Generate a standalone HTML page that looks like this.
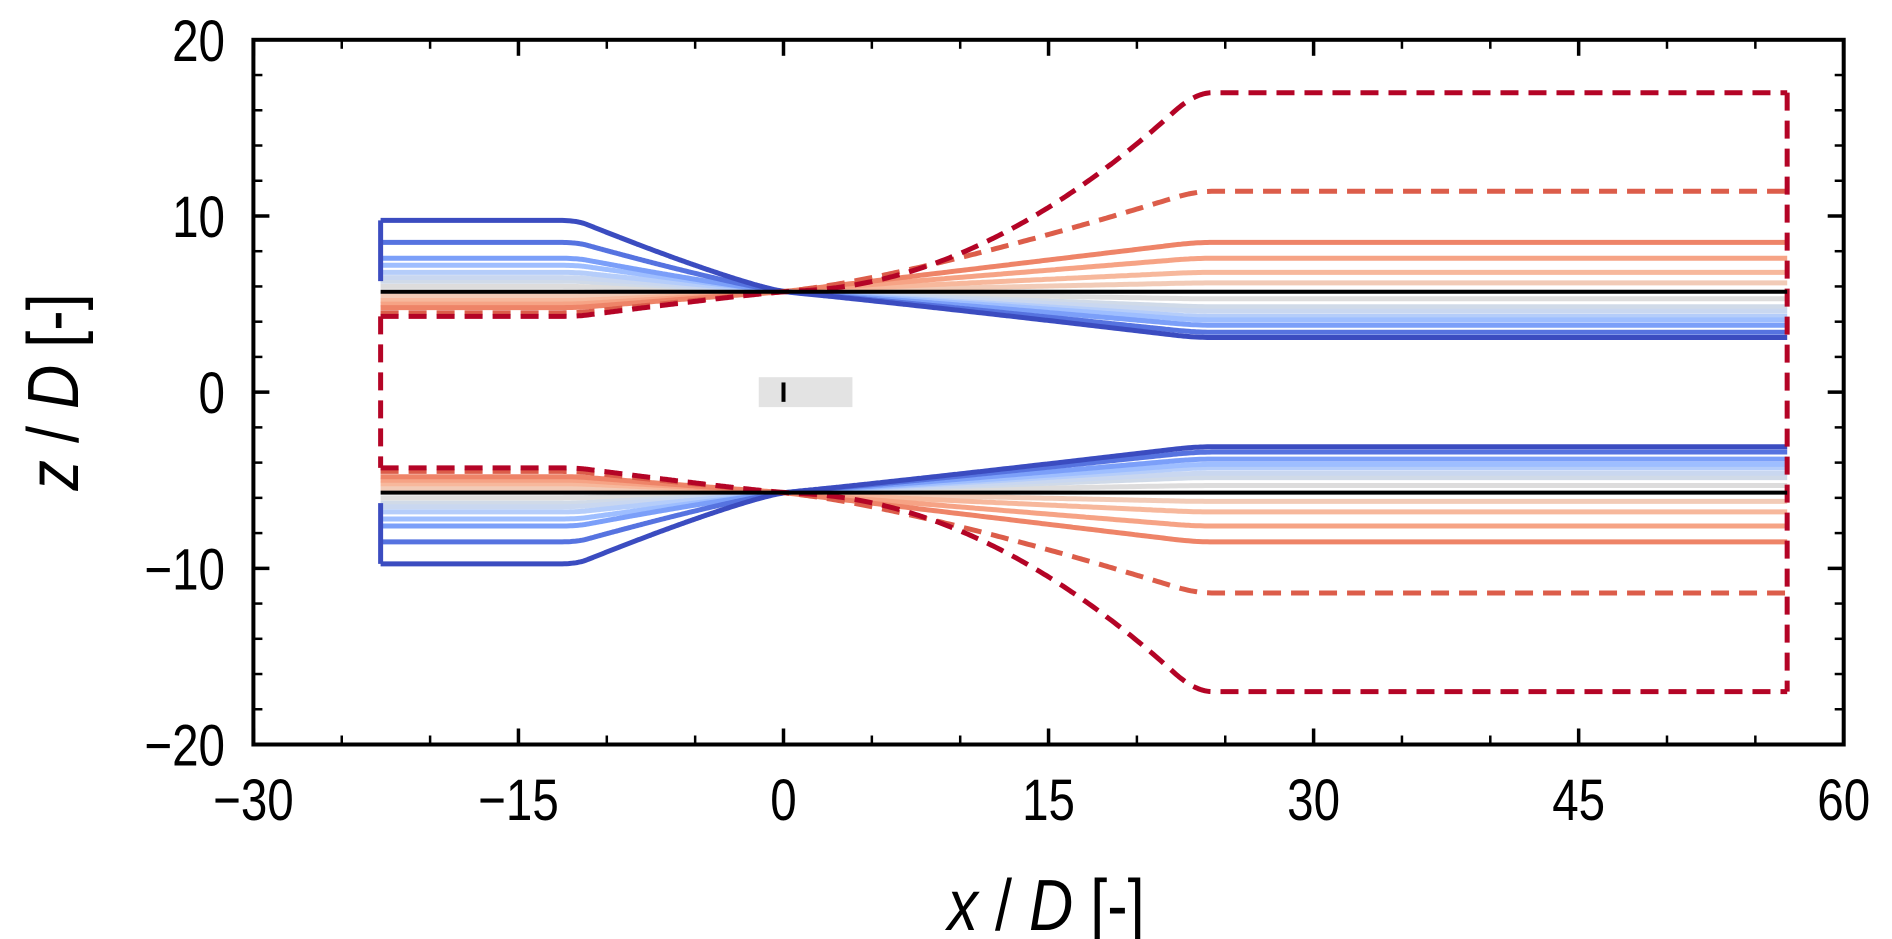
<!DOCTYPE html>
<html><head><meta charset="utf-8"><style>
body{margin:0;background:#fff;}
svg{display:block;font-family:"Liberation Sans",sans-serif;}
</style></head><body>
<svg id="chart" width="1892" height="939" viewBox="0 0 1892 939" style="font-family:'Liberation Sans',sans-serif;">
<g id="plot"></g>
<g id="axes"></g>
<text transform="translate(1046,930) scale(0.85,1)" text-anchor="middle" font-size="72"><tspan font-style="italic">x</tspan> / <tspan font-style="italic">D</tspan> [-]</text>
<text transform="translate(78,392) rotate(-90) scale(0.85,1)" text-anchor="middle" font-size="72"><tspan font-style="italic">z</tspan> / <tspan font-style="italic">D</tspan> [-]</text>
</svg>
<script>
// Data
const lineLeftZ  = [9.75, 8.5, 7.6, 7.2, 6.8, 6.5, 6.3, 6.0, 5.45, 5.2, 5.0, 4.8, 4.5, 4.3];
const lineRightZ = [3.1, 3.4, 3.8, 4.1, 4.3, 4.6, 4.85, 5.3, 6.2, 6.8, 7.6, 8.5, 11.4, 17.0];
const leftMidZ   = [7.5, 6.95, 6.55, 6.4, 6.2, 6.07, 5.98, 5.85, 5.58, 5.46, 5.36, 5.26, 5.12, 5.05];
const rightMidZ  = [4.45, 4.6, 4.8, 4.95, 5.05, 5.2, 5.3, 5.5, 5.95, 6.25, 6.65, 7.1, 8.05, 8.6];
const lineColors = ['#3b4cc0','#5673e0','#7b9ff9','#9ebeff','#b5cdfa','#c9d7f0','#d0dae8','#dddcdc','#f2cbb7','#f7b89c','#f6a385','#ee8468','#dc5d4a','#b40426'];
const lineDashed = [false,false,false,false,false,false,false,false,false,false,false,false,true,true];
const centerZ = 5.7;
const xStart = -22.8, xKnotL = -11.7, xKnotR = 23.3, xEnd = 56.8;
const xTicksMajor = [-30,-15,0,15,30,45,60];
const xTickLabels = ['\u221230','\u221215','0','15','30','45','60'];
const yTicksMajor = [-20,-10,0,10,20];
const yTickLabels = ['\u221220','\u221210','0','10','20'];

const L=253.4, R=1843.7, T=39.8, B=744.5;
const xs = x => L + (x+30)/90*(R-L);
const ys = z => B - (z+20)/40*(B-T);
const NS='http://www.w3.org/2000/svg';
const plot=document.getElementById('plot'), axes=document.getElementById('axes');
function mk(tag, attrs, parent){const e=document.createElementNS(NS,tag);for(const k in attrs)e.setAttribute(k,attrs[k]);parent.appendChild(e);return e;}
function frac(z, zEnd){ const m=(z-centerZ)/(zEnd-centerZ); return Math.min(0.98,Math.max(0.02,m)); }
function chaikin(pts, n){
  for(let k=0;k<n;k++){
    const out=[pts[0]];
    for(let i=0;i<pts.length-1;i++){
      const a=pts[i], b=pts[i+1];
      out.push([0.75*a[0]+0.25*b[0],0.75*a[1]+0.25*b[1]]);
      out.push([0.25*a[0]+0.75*b[0],0.25*a[1]+0.75*b[1]]);
    }
    out.push(pts[pts.length-1]); pts=out;
  }
  return pts;
}
function pathFor(i, sign){
  const zl=lineLeftZ[i], zr=lineRightZ[i];
  const pl=Math.log(frac(leftMidZ[i],zl))/Math.log(0.5);
  const pr=Math.log(frac(rightMidZ[i],zr))/Math.log(0.5);
  let pts=[[xStart, zl],[xKnotL-2, zl],[xKnotL, zl]];
  const N=10;
  for(let k=1;k<=N;k++){const s=1-k/N; pts.push([xKnotL*s, centerZ+(zl-centerZ)*Math.pow(s,pl)]);}
  for(let k=1;k<=N;k++){const s=k/N; pts.push([xKnotR*s, centerZ+(zr-centerZ)*Math.pow(s,pr)]);}
  pts.push([xKnotR+2, zr]);
  pts.push([xEnd, zr]);
  pts=pts.map(p=>[xs(p[0]), ys(sign*p[1])]);
  pts=chaikin(pts,4);
  return 'M'+pts.map(p=>p[0].toFixed(1)+','+p[1].toFixed(1)).join(' L');
}
const box=mk('rect',{x:xs(-1.4),y:ys(0.85),width:xs(3.9)-xs(-1.4),height:ys(-0.85)-ys(0.85),fill:'#e3e3e3'},plot);


const tb=mk('line',{x1:xs(0),x2:xs(0),y1:ys(0.55),y2:ys(-0.55),stroke:'#000','stroke-width':4},plot);


const order=[7,6,5,4,3,8,9,10,11,2,1,0,12,13];
order.forEach(i=>{
  [1,-1].forEach(sign=>{
    const a={d:pathFor(i,sign),fill:'none',stroke:lineColors[i],'stroke-width':5,'stroke-linejoin':'round'};
    if(lineDashed[i]) a['stroke-dasharray']='18 10';
    const p=mk('path',a,plot);
    
    
  });
});
const i0=13;
const vl=mk('line',{x1:xs(xStart),x2:xs(xStart),y1:ys(lineLeftZ[i0]),y2:ys(-lineLeftZ[i0]),stroke:lineColors[i0],'stroke-width':5,'stroke-dasharray':'18 10'},plot);


const vr=mk('line',{x1:xs(xEnd),x2:xs(xEnd),y1:ys(lineRightZ[i0]),y2:ys(-lineRightZ[i0]),stroke:lineColors[i0],'stroke-width':5,'stroke-dasharray':'18 10'},plot);


const vb=mk('line',{x1:xs(xStart),x2:xs(xStart),y1:ys(lineLeftZ[0]),y2:ys(lineLeftZ[6]),stroke:lineColors[0],'stroke-width':5},plot);


const vb2=mk('line',{x1:xs(xStart),x2:xs(xStart),y1:ys(-lineLeftZ[0]),y2:ys(-lineLeftZ[6]),stroke:lineColors[0],'stroke-width':5},plot);


[1,-1].forEach(sign=>{
  const c=mk('line',{x1:xs(xStart),x2:xs(xEnd),y1:ys(sign*centerZ),y2:ys(sign*centerZ),stroke:'#000','stroke-width':4},plot);
  
  
});
const fr=mk('rect',{x:L,y:T,width:R-L,height:B-T,fill:'none',stroke:'#000','stroke-width':4},axes);


for(let v=-30;v<=60;v+=5){
  const major=v%15===0, len=major?16:9;
  [[B,B-len],[T,T+len]].forEach(([a,b])=>{
    const t=mk('line',{x1:xs(v),x2:xs(v),y1:a,y2:b,stroke:'#000','stroke-width':major?3.5:2.5},axes);
    
    
  });
}
for(let v=-20;v<=20;v+=2){
  const major=v%10===0, len=major?16:9;
  [[L,L+len],[R,R-len]].forEach(([a,b])=>{
    const t=mk('line',{x1:a,x2:b,y1:ys(v),y2:ys(v),stroke:'#000','stroke-width':major?3.5:2.5},axes);
    
    
  });
}
xTicksMajor.forEach((v,k)=>{
  const t=mk('text',{transform:'translate('+xs(v)+',820) scale(0.82,1)','text-anchor':'middle','font-size':58,fill:'#000'},axes);
  t.textContent=xTickLabels[k];
  
  
});
yTicksMajor.forEach((v,k)=>{
  const t=mk('text',{transform:'translate(225,'+(ys(v)+21)+') scale(0.82,1)','text-anchor':'end','font-size':58,fill:'#000'},axes);
  t.textContent=yTickLabels[k];
  
  
});
</script>
</body></html>
